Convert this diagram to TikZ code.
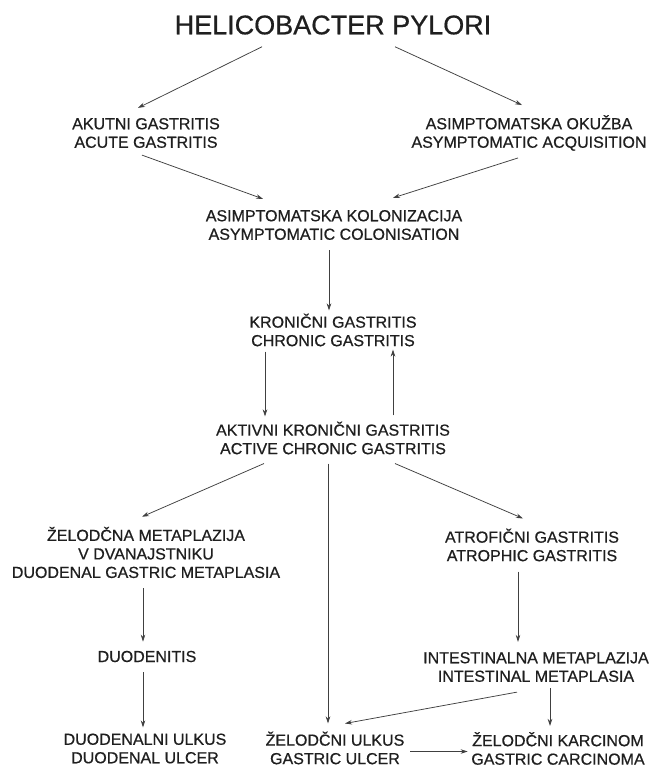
\documentclass[tikz,border=0pt]{standalone}
\usepackage{fontspec}
\setmainfont{Liberation Sans}[FakeBold=0.6]
\usetikzlibrary{arrows.meta}

\begin{document}
\begin{tikzpicture}[x=1pt, y=-1pt,
    lbl/.style={align=center, text=black!88, inner sep=2pt,
        font=\fontsize{16}{18.5}\selectfont},
    arr/.style={draw=black!75, line width=0.75pt,
        -{Stealth[length=7pt, width=4.5pt]}}]
    \useasboundingbox[fill=white] (0,0) rectangle (656,767);
    % nodes
    \node[lbl, font=\fontsize{27}{30}\selectfont] (hp) at (333, 25) {HELICOBACTER PYLORI};
    \node[lbl] (akut) at (146, 133) {AKUTNI GASTRITIS\\ACUTE GASTRITIS};
    \node[lbl] (okuz) at (529, 133) {ASIMPTOMATSKA OKUŽBA\\ASYMPTOMATIC ACQUISITION};
    \node[lbl] (kolon) at (334, 225) {ASIMPTOMATSKA KOLONIZACIJA\\ASYMPTOMATIC COLONISATION};
    \node[lbl] (kron) at (333, 330) {KRONIČNI GASTRITIS\\CHRONIC GASTRITIS};
    \node[lbl] (aktiv) at (333, 438) {AKTIVNI KRONIČNI GASTRITIS\\ACTIVE CHRONIC GASTRITIS};
    \node[lbl] (zmet) at (146, 552.5) {ŽELODČNA METAPLAZIJA\\V DVANAJSTNIKU\\DUODENAL GASTRIC METAPLASIA};
    \node[lbl] (atrof) at (532, 545) {ATROFIČNI GASTRITIS\\ATROPHIC GASTRITIS};
    \node[lbl] (duod) at (147, 656.5) {DUODENITIS};
    \node[lbl] (inmet) at (536, 667) {INTESTINALNA METAPLAZIJA\\INTESTINAL METAPLASIA};
    \node[lbl] (dulk) at (145, 748.5) {DUODENALNI ULKUS\\DUODENAL ULCER};
    \node[lbl] (zulk) at (335, 748) {ŽELODČNI ULKUS\\GASTRIC ULCER};
    \node[lbl] (karc) at (558, 748.5) {ŽELODČNI KARCINOM\\GASTRIC CARCINOMA};
    % arrows
    \draw[arr] ([shift={(-71,10)}]hp.south) -- ([shift={(-8,-8)}]akut.north);
    \draw[arr] ([shift={(62,10)}]hp.south) -- ([shift={(-7,-8)}]okuz.north);
    \draw[arr] ([shift={(-4,5)}]akut.south) -- ([shift={(-71,-9)}]kolon.north);
    \draw[arr] ([shift={(-11,5)}]okuz.south) -- ([shift={(59,-10)}]kolon.north);
    \draw[arr] ([shift={(-5,8)}]kolon.south) -- ([shift={(-4,-1)}]kron.north);
    \draw[arr] ([shift={(-68,3)}]kron.south) -- ([shift={(-68,-3)}]aktiv.north);
    \draw[arr] ([shift={(60,-4)}]aktiv.north) -- ([shift={(60,1)}]kron.south);
    \draw[arr] ([shift={(-69,7)}]aktiv.south) -- ([shift={(-4,-8)}]zmet.north);
    \draw[arr] ([shift={(-5,7)}]aktiv.south) -- ([shift={(-7,-6)}]zulk.north);
    \draw[arr] ([shift={(62,7)}]aktiv.south) -- ([shift={(-9,-8)}]atrof.north);
    \draw[arr] ([shift={(-3,8)}]zmet.south) -- ([shift={(-4,-7)}]duod.north);
    \draw[arr] ([shift={(-4,8)}]duod.south) -- ([shift={(-2,-4)}]dulk.north);
    \draw[arr] ([shift={(-14,8)}]atrof.south) -- ([shift={(-18,-8)}]inmet.north);
    \draw[arr] ([shift={(-19,8)}]inmet.south) -- ([shift={(10,-6)}]zulk.north);
    \draw[arr] ([shift={(14,4)}]inmet.south) -- ([shift={(-8,-4)}]karc.north);
    \draw[arr] ([shift={(3.5,3.5)}]zulk.east) -- ([shift={(-1.5,3)}]karc.west);
\end{tikzpicture}
\end{document}
